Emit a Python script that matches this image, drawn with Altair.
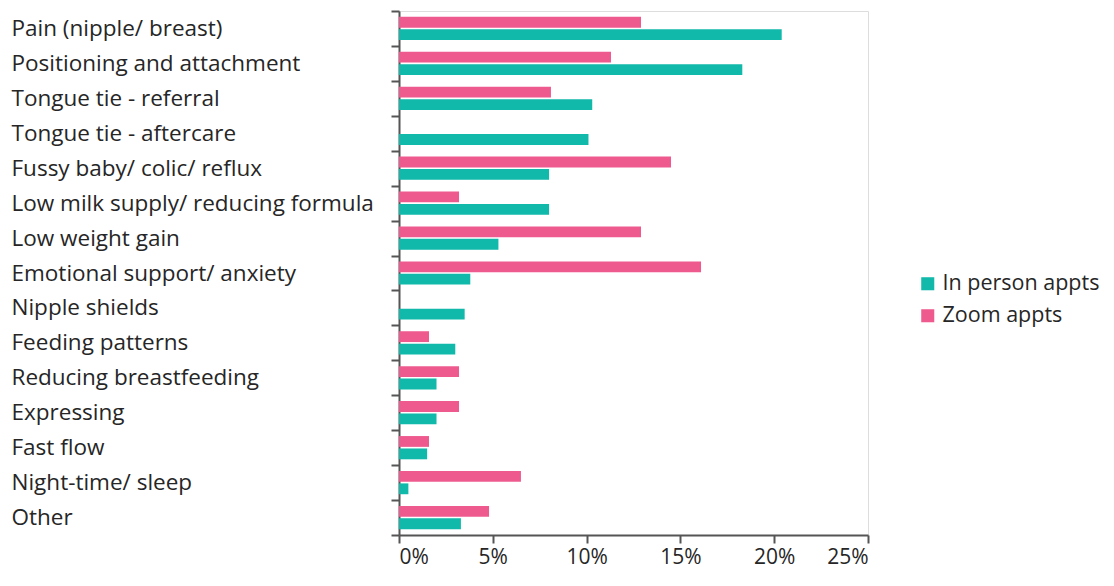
import altair as alt
import pandas as pd

categories = [
    "Pain (nipple/ breast)",
    "Positioning and attachment",
    "Tongue tie - referral",
    "Tongue tie - aftercare",
    "Fussy baby/ colic/ reflux",
    "Low milk supply/ reducing formula",
    "Low weight gain",
    "Emotional support/ anxiety",
    "Nipple shields",
    "Feeding patterns",
    "Reducing breastfeeding",
    "Expressing",
    "Fast flow",
    "Night-time/ sleep",
    "Other",
]
in_person = [20.4, 18.3, 10.3, 10.1, 8.0, 8.0, 5.3, 3.8, 3.5, 3.0, 2.0, 2.0, 1.5, 0.5, 3.3]
zoom = [12.9, 11.3, 8.1, 0.0, 14.5, 3.2, 12.9, 16.1, 0.0, 1.6, 3.2, 3.2, 1.6, 6.5, 4.8]
series = ["In person appts", "Zoom appts"]
colors = ["#10B9AA", "#EE5A8E"]

rows = []
for c, a, b in zip(categories, in_person, zoom):
    rows.append({"Category": c, "Series": series[0], "Value": a / 100})
    rows.append({"Category": c, "Series": series[1], "Value": b / 100})
df = pd.DataFrame(rows)

FONT = "Open Sans"

chart = alt.Chart(df).mark_bar().encode(
    y=alt.Y(
        "Category:N",
        sort=categories,
        title=None,
        scale=alt.Scale(paddingInner=0, paddingOuter=0),
        axis=alt.Axis(
            labelAlign="left",
            labelPadding=380,
            labelLimit=400,
            tickSize=8,
            tickBand="extent",
            labelFontSize=22.5,
            labelFont=FONT,
            labelColor="#262626",
            domainColor="#555555",
            domainWidth=2,
            tickColor="#555555",
            tickWidth=2,
        ),
    ),
    yOffset=alt.YOffset(
        "Series:N",
        sort=["Zoom appts", "In person appts"],
        scale=alt.Scale(paddingInner=0.13, paddingOuter=0.47),
    ),
    x=alt.X(
        "Value:Q",
        title=None,
        scale=alt.Scale(domain=[0, 0.25], nice=False),
        axis=alt.Axis(
            values=[0, 0.05, 0.10, 0.15, 0.20, 0.25],
            format=".0%",
            grid=False,
            tickSize=8,
            labelFontSize=21,
            labelFont=FONT,
            labelColor="#262626",
            labelPadding=3,
            domainColor="#555555",
            domainWidth=2,
            tickColor="#555555",
            tickWidth=2,
        ),
    ),
    color=alt.Color(
        "Series:N",
        scale=alt.Scale(domain=series, range=colors),
        legend=alt.Legend(
            title=None,
            orient="none",
            legendX=518,
            legendY=262,
            symbolType="square",
            symbolSize=170,
            symbolStrokeWidth=0,
            symbolOpacity=1,
            labelFontSize=21.5,
            labelFont=FONT,
            labelColor="#262626",
            labelOffset=4,
            labelLimit=300,
            rowPadding=9,
        ),
    ),
).properties(
    width=469,
    height=524,
    padding={"left": 11, "top": 0, "right": 0, "bottom": 6},
).configure_view(
    stroke="#d9d9d9",
    strokeWidth=2,
).configure(background="white")

chart.save("out.html", embed_options={"renderer": "svg", "actions": False})
